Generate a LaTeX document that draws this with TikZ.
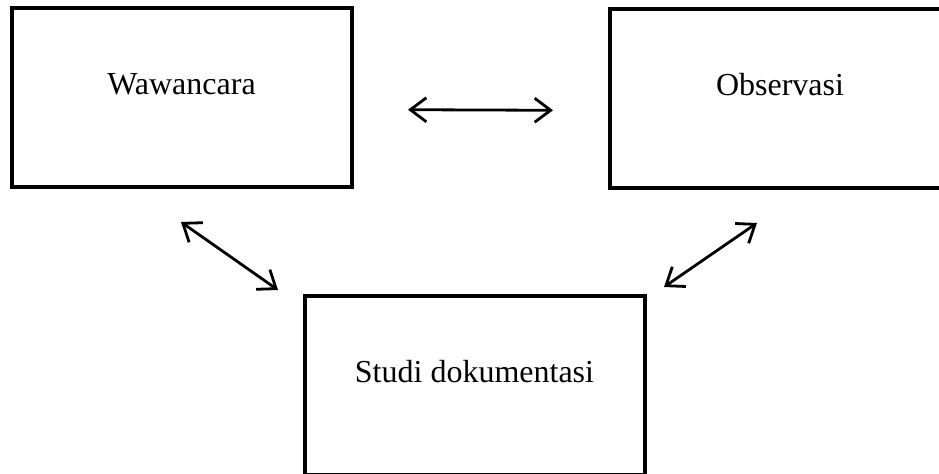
\documentclass[tikz,border=0pt]{standalone}
\usepackage{fontspec}
\setmainfont{Liberation Serif}
\usepackage{tikz}
\usetikzlibrary{arrows.meta, positioning}

\begin{document}
\begin{tikzpicture}[
    x=0.5pt, y=0.5pt,
    every node/.style={font=\fontsize{16}{19}\selectfont},
    kotak/.style={draw, line width=2pt, minimum width=170pt, minimum height=89.5pt, text height=11pt, text depth=14.4pt},
    panah/.style={line width=1.4pt, {Straight Barb[length=8pt,width=12pt]}-{Straight Barb[length=8pt,width=12pt]}}
]

% Frame
\useasboundingbox (0,0) rectangle (939,473);
\clip (0,0) rectangle (939,473);

% Teknik pengumpulan data
\node[kotak] (wawancara) at (181.5,375.5) {Wawancara};
\node[kotak] (observasi) at (780,374.5) {Observasi};
\node[kotak] (studi) at (474.5,87.5) {Studi dokumentasi};

% Hubungan
\draw[panah, shorten <=27.25pt, shorten >=27.5pt] ([yshift=-6pt]wawancara.east) -- ([yshift=-6pt]observasi.west);
\draw[panah] ([xshift=-0.25pt,yshift=-16.5pt]wawancara.south) -- ([xshift=-12.25pt,yshift=2pt]studi.north west);
\draw[panah] ([xshift=8.75pt,yshift=3.5pt]studi.north east) -- ([xshift=-11.5pt,yshift=-16.5pt]observasi.south);

\end{tikzpicture}
\end{document}
